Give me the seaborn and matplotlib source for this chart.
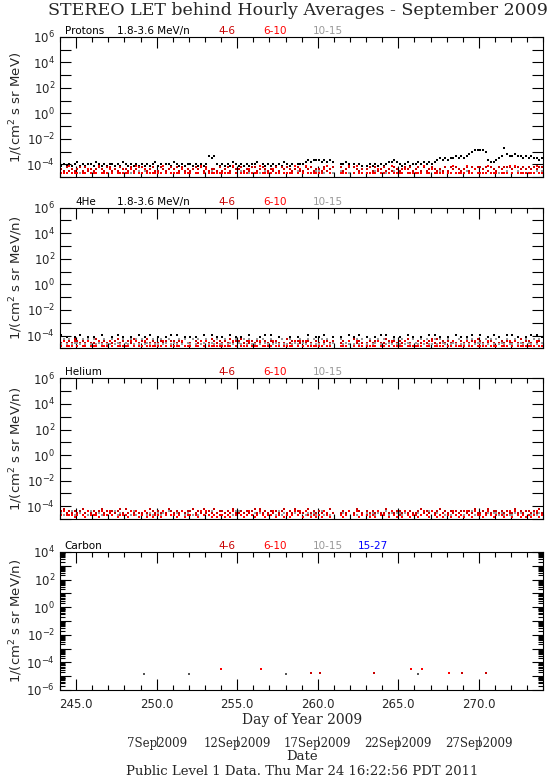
import numpy as np
import matplotlib
matplotlib.use("Agg")
import matplotlib.pyplot as plt
import matplotlib.ticker as mticker
import seaborn as sns

sns.set_theme(style="ticks")
plt.rcParams["font.family"] = ["DejaVu Sans"]
plt.rcParams["axes.edgecolor"] = "black"

# 4-hour averages, 6 per day from DOY 244 to 273.
# each char is a level code: value = 10**(-5 + 0.15*code), "." = no data
CODES = "0123456789abcdef"

# Protons
prot_1836 = """676767 867677 687676 776768 767676
767678 676776 876767 767676 7bab76
767687 676767 786767 676768 767677
789899 989898 ..7787 .7676. 676767
678898 767867 787878 789a9a 9aabab
abcdee eed988 9abfcb bcbbab abaa9a"""
prot_46 = """435343 453534 345435 534354 435345
543453 354345 453534 345453 534435
345354 453435 534543 435354 543453
354534 435345 ..5345 .5434. 453534
534354 345453 453534 543435 354543
453545 545354 354555 455454 545455"""
prot_610 = """222622 2.2242 226222 42.222 224262
242222 2262.2 222422 2.2262 422222
222262 .22242 226222 2422.2 222624
262222 22462. ..2226 .2622. 222242
2.2622 224222 222622 42222. 226222
262242 222622 2.2226 262222 222622"""
prot_1015 = """2..3.2 .2..3. 3..2.. .2.3.2 ..2..3
.3.2.. 2..3.2 .2..3. 3.2..2 ..3.2.
2..3.2 .3..2. ..2.3. 2..3.. .2..3.
..2..3 3.2..2 ..3..2 .2.3.. 2..3.2
.2..3. 3..2.3 ..3..2 .2.3.. 3..2.3
.3.2.. 2..3.2 .2..3. 2.3..2 .2.3.3"""

# 4He
he4_1836 = """7.6..6 .7..6. 6..7.. .6.7.6 ..6..7
.6.7.. 6..6.7 .7..6. 6.6..7 ..7.6.
6..7.6 .6..7. ..6.7. 7..6.. .6..6.
..7..6 6.7..6 ..6..7 .6.7.. 6..6.7
.7..6. 6..7.6 ..6..7 .7.6.. 6..7.6
.6.7.. 7..6.7 .6..7. 7.6..6 .7.7.6"""
he4_46 = """343435 434353 354343 434534 343543
435343 343454 434353 354343 435434
343534 453434 343543 434353 534343
434354 353434 ..3434 .5343. 343453
354343 434535 343434 535343 434354
343435 435343 534343 343534 435343"""
he4_610 = """141114 1.1141 114111 41.111 114141
141111 1141.1 111411 1.1141 411111
111141 .11141 114111 1411.1 111414
141111 11411. ..1114 .1411. 111141
1.1411 114111 111411 41111. 114111
141141 111411 1.1114 141111 111411"""
he4_1015 = """252523 325252 523252 252325 325252
523252 252352 325253 252523 523252
252325 325252 252532 523252 252325
325252 252523 ..5232 .2525. 252352
523252 252325 325252 252532 523252
252523 325252 523252 252325 325253"""

# Helium
hel_46 = """453434 345343 434534 343453 534343
343543 434354 343434 453435 343534
434353 343434 535343 434345 343543
345343 434353 ..3434 .3543. 434343
353434 434343 345343 434534 343434
434353 343534 434343 353434 434353"""
hel_610 = """242221 2.2142 221422 42.122 214241
241212 2142.2 212412 2.2142 421212
212142 .21242 124212 2412.1 212424
142121 21421. ..2124 .2412. 212142
2.1421 214212 212421 42121. 214212
142142 212421 2.2124 142121 212412"""
hel_1015 = """323242 232324 423232 324232 232423
242323 323242 232423 423232 324232
232324 423232 323242 232423 242323
323232 242323 ..2324 .3242. 323232
242323 323242 232324 423232 324232
232423 242323 323242 232324 423232"""

# Carbon: only a handful of hours have counts
carb_46_day = [259.55, 260.14, 263.5, 268.15, 268.93, 270.46]
carb_46_val = [1.6e-5, 1.6e-5, 1.6e-5, 1.6e-5, 1.6e-5, 1.6e-5]
carb_610_day = [254.0, 256.5, 265.8, 266.5, 268.15]
carb_610_val = [3.2e-5, 3.2e-5, 3.2e-5, 3.2e-5, 1.6e-5]
carb_1015_day = [249.2, 252.0, 258.0, 266.2]
carb_1015_val = [1.4e-5, 1.4e-5, 1.4e-5, 1.4e-5]

date_doy = [250, 255, 260, 265, 270]
date_labels = ["7Sep2009", "12Sep2009", "17Sep2009", "22Sep2009", "27Sep2009"]

BLACK, DKRED, RED, GREY, BLUE = "black", "#c80000", "#ff0000", "#999999", "#0000ff"


def decode(s):
    groups = s.split()
    assert len(groups) == 30 and all(len(g) == 6 for g in groups), s
    return np.array([np.nan if c == "." else 10 ** (-5 + 0.15 * CODES.index(c))
                     for g in groups for c in g])


days = 244 + (np.arange(180) + 0.5) / 6


def dots(ax, x, y, color, size=1.8):
    sns.scatterplot(x=x, y=y, ax=ax, color=color, marker="s", s=size,
                    linewidth=0, legend=False)


def decade_fmt(v, pos):
    e = int(round(np.log10(v)))
    return f"$10^{{{e}}}$" if e % 2 == 0 else ""


def style_axes(ax, ylo, yhi, dense=False):
    ax.set_yscale("log")
    ax.set_xlim(244, 274)
    ax.set_ylim(ylo, yhi)
    ax.xaxis.set_major_locator(mticker.MultipleLocator(5))
    ax.xaxis.set_minor_locator(mticker.MultipleLocator(1))
    ax.yaxis.set_major_locator(mticker.LogLocator(base=10, numticks=30))
    ax.yaxis.set_major_formatter(mticker.FuncFormatter(decade_fmt))
    if dense:
        ax.yaxis.set_minor_locator(mticker.LogLocator(base=10, subs=np.arange(2, 10), numticks=30))
    else:
        ax.yaxis.set_minor_locator(mticker.NullLocator())
    ax.tick_params(axis="both", which="both", direction="in", top=True, right=True,
                   width=0.8, color="black", labelsize=8.5)
    ax.tick_params(which="major", length=8)
    ax.tick_params(which="minor", length=3.5)
    ax.tick_params(axis="x", labelbottom=False)
    for sp in ax.spines.values():
        sp.set_linewidth(0.8)
    ax.set_xlabel("")
    ax.yaxis.set_label_coords(-0.072, 0.5)


def header(ax, name, name_x, with_low=True, with_blue=False):
    kw = dict(transform=ax.transAxes, fontsize=7.5, va="bottom")
    ax.text(name_x, 1.008, name, color=BLACK, **kw)
    if with_low:
        ax.text(0.118, 1.008, "1.8-3.6 MeV/n", color=BLACK, **kw)
    ax.text(0.327, 1.008, "4-6", color=DKRED, **kw)
    ax.text(0.42, 1.008, "6-10", color=RED, **kw)
    ax.text(0.524, 1.008, "10-15", color=GREY, **kw)
    if with_blue:
        ax.text(0.617, 1.008, "15-27", color=BLUE, **kw)


fig = plt.figure(figsize=(5.55, 7.77), dpi=100)
L, W = 0.108, 0.871

# Panel 1: protons
ax1 = fig.add_axes([L, 0.7722, W, 0.1802])
dots(ax1, days, decode(prot_1836), BLACK)
dots(ax1, days, decode(prot_1015), GREY)
dots(ax1, days, decode(prot_46), DKRED)
dots(ax1, days, decode(prot_610), RED)
style_axes(ax1, 1e-5, 1e6)
ax1.set_ylabel("1/(cm$^2$ s sr MeV)", fontsize=9.5)
header(ax1, "Protons", 0.01)

# Panel 2: 4He
ax2 = fig.add_axes([L, 0.5517, W, 0.181])
dots(ax2, days, decode(he4_1836), BLACK)
dots(ax2, days, decode(he4_46), DKRED)
dots(ax2, days, decode(he4_1015), GREY)
dots(ax2, days, decode(he4_610), RED)
style_axes(ax2, 1e-5, 1e6)
ax2.set_ylabel("1/(cm$^2$ s sr MeV/n)", fontsize=9.5)
header(ax2, "4He", 0.033)

# Panel 3: Helium
ax3 = fig.add_axes([L, 0.332, W, 0.181])
dots(ax3, days, decode(hel_1015), GREY)
dots(ax3, days, decode(hel_46), DKRED)
dots(ax3, days, decode(hel_610), RED)
style_axes(ax3, 1e-5, 1e6)
ax3.set_ylabel("1/(cm$^2$ s sr MeV/n)", fontsize=9.5)
header(ax3, "Helium", 0.01, with_low=False)

# Panel 4: Carbon
ax4 = fig.add_axes([L, 0.112, W, 0.1776])
dots(ax4, carb_1015_day, carb_1015_val, "#555555", size=1.5)
dots(ax4, carb_46_day, carb_46_val, DKRED, size=3.5)
dots(ax4, carb_610_day, carb_610_val, RED, size=3.5)
style_axes(ax4, 1e-6, 1e4, dense=True)
ax4.set_ylabel("1/(cm$^2$ s sr MeV/n)", fontsize=9.5)
ax4.tick_params(axis="x", labelbottom=True, pad=6)
ax4.xaxis.set_major_formatter(mticker.FormatStrFormatter("%.1f"))
header(ax4, "Carbon", 0.01, with_low=False, with_blue=True)

# calendar date axis below
sec = ax4.secondary_xaxis(-0.333)
sec.set_xticks(date_doy)
sec.set_xticklabels(date_labels, family="DejaVu Serif", fontsize=8.5)
sec.spines["bottom"].set_visible(False)
sec.tick_params(axis="x", direction="out", length=7, width=0.6, pad=-6)
sec.xaxis.set_minor_locator(mticker.NullLocator())

serif = dict(family="DejaVu Serif", ha="center", va="center")
fig.text(0.537, 0.987, "STEREO LET behind Hourly Averages - September 2009", fontsize=12.5, **serif)
fig.text(0.5436, 0.073, "Day of Year 2009", fontsize=10, **serif)
fig.text(0.5436, 0.026, "Date", fontsize=9.5, **serif)
fig.text(0.5436, 0.0075, "Public Level 1 Data. Thu Mar 24 16:22:56 PDT 2011", fontsize=9.5, **serif)

fig.savefig("out.png", dpi=100, facecolor="white")
